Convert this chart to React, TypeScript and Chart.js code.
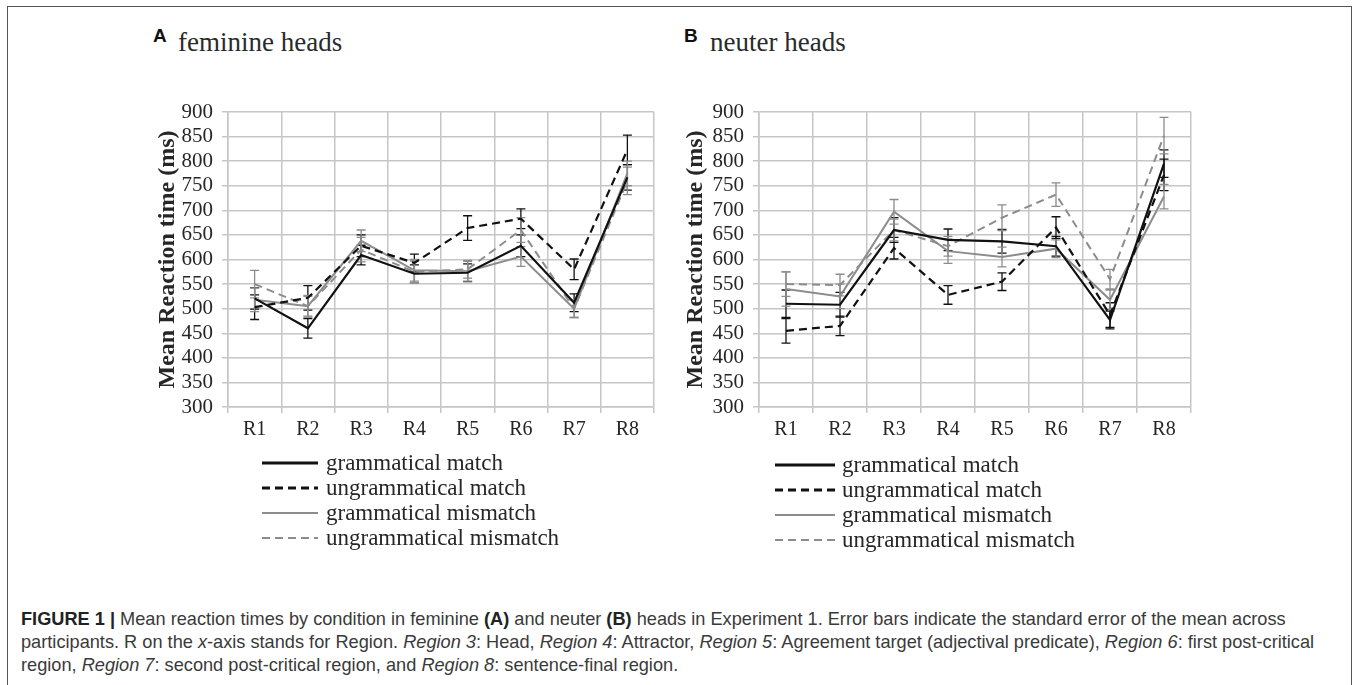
import React, { useEffect, useRef } from "react";
import { Chart, registerables } from "chart.js";

Chart.register(...registerables);

// ---------- data ----------
const regions = ["R1", "R2", "R3", "R4", "R5", "R6", "R7", "R8"];
const yTicksMin = 300;
const yTicksMax = 900;
const yTickStep = 50;
const seriesLabels = [
  "grammatical match",
  "ungrammatical match",
  "grammatical mismatch",
  "ungrammatical mismatch",
];

// feminine heads (A)
const femGramMatch = [521, 460, 609, 571, 573, 628, 512, 767];
const femGramMatchErr = [22, 20, 20, 18, 18, 22, 18, 26];
const femUngramMatch = [503, 522, 628, 593, 664, 683, 580, 823];
const femUngramMatchErr = [25, 25, 22, 18, 25, 20, 21, 30];
const femGramMismatch = [518, 505, 638, 578, 576, 606, 500, 775];
const femGramMismatchErr = [24, 20, 22, 22, 20, 20, 18, 25];
const femUngramMismatch = [550, 505, 620, 575, 580, 660, 500, 760];
const femUngramMismatchErr = [28, 22, 25, 22, 18, 25, 18, 28];

// neuter heads (B)
const neuGramMatch = [510, 508, 660, 640, 637, 627, 477, 795];
const neuGramMatchErr = [28, 25, 25, 22, 24, 20, 18, 28];
const neuUngramMatch = [455, 465, 623, 528, 555, 665, 487, 772];
const neuUngramMatchErr = [25, 20, 22, 19, 18, 22, 25, 32];
const neuGramMismatch = [540, 525, 697, 617, 605, 622, 518, 728];
const neuGramMismatchErr = [35, 25, 25, 25, 20, 18, 20, 25];
const neuUngramMismatch = [550, 548, 660, 627, 685, 732, 560, 852];
const neuUngramMismatchErr = [25, 22, 22, 20, 26, 24, 20, 37];

// ---------- styles ----------
const SERIF = "'Liberation Serif', 'Times New Roman', serif";
const SANS = "'Liberation Sans', Arial, sans-serif";
const GRID = "#c6c6c6";
const TXT = "#262626";
const BLACK = "#111111";
const GRAY = "#8c8c8c";
const DASH = [8, 5];

const errorBarPlugin = {
  id: "errorBars",
  beforeDatasetsDraw(chart: any) {
    const ctx = chart.ctx;
    const ys = chart.scales.y;
    chart.data.datasets.forEach((ds: any, i: number) => {
      const meta = chart.getDatasetMeta(i);
      const errs: number[] = ds.errors;
      if (!errs) return;
      ctx.save();
      ctx.strokeStyle = ds.borderColor;
      ctx.lineWidth = 1.3;
      ctx.setLineDash([]);
      meta.data.forEach((pt: any, j: number) => {
        const v = ds.data[j];
        const e = errs[j];
        const x = pt.x;
        const t = ys.getPixelForValue(v + e);
        const b = ys.getPixelForValue(v - e);
        ctx.beginPath();
        ctx.moveTo(x, t);
        ctx.lineTo(x, b);
        ctx.moveTo(x - 4.5, t);
        ctx.lineTo(x + 4.5, t);
        ctx.moveTo(x - 4.5, b);
        ctx.lineTo(x + 4.5, b);
        ctx.stroke();
      });
      ctx.restore();
    });
  },
};

const lineLegendPlugin = {
  id: "lineLegend",
  afterDraw(chart: any, _args: any, opts: any) {
    const ctx = chart.ctx;
    ctx.save();
    chart.data.datasets.forEach((ds: any, i: number) => {
      const yy = opts.y + i * opts.gap;
      ctx.strokeStyle = ds.borderColor;
      ctx.lineWidth = ds.legendWidth || ds.borderWidth;
      ctx.setLineDash(ds.borderDash || []);
      ctx.beginPath();
      ctx.moveTo(opts.x0, yy);
      ctx.lineTo(opts.x1, yy);
      ctx.stroke();
      ctx.setLineDash([]);
      ctx.fillStyle = TXT;
      ctx.font = `23px ${SERIF}`;
      ctx.textBaseline = "middle";
      ctx.textAlign = "left";
      ctx.fillText(ds.label, opts.textX, yy + 1);
    });
    ctx.restore();
  },
};

function makeDatasets(vals: number[][], errs: number[][]) {
  const styles = [
    { color: BLACK, dash: [], width: 2.2, lw: 3 },
    { color: BLACK, dash: DASH, width: 2.2, lw: 3 },
    { color: GRAY, dash: [], width: 2, lw: 2.2 },
    { color: GRAY, dash: DASH, width: 2, lw: 2.2 },
  ];
  return vals.map((v, i) => ({
    label: seriesLabels[i],
    data: v,
    errors: errs[i],
    borderColor: styles[i].color,
    backgroundColor: styles[i].color,
    borderDash: styles[i].dash,
    borderWidth: styles[i].width,
    legendWidth: styles[i].lw,
    pointRadius: 0,
    tension: 0,
    fill: false,
  }));
}

type PanelProps = {
  left: number;
  top: number;
  width: number;
  height: number;
  yScaleWidth: number;
  padRight: number;
  padTop: number;
  padBottom: number;
  titlePad: number;
  legend: { x0: number; x1: number; textX: number; y: number; gap: number };
  vals: number[][];
  errs: number[][];
};

function Panel(p: PanelProps) {
  const ref = useRef<HTMLCanvasElement | null>(null);
  useEffect(() => {
    if (!ref.current) return;
    const chart = new Chart(ref.current, {
      type: "line",
      data: { labels: regions, datasets: makeDatasets(p.vals, p.errs) as any },
      options: {
        animation: false,
        responsive: false,
        devicePixelRatio: 1,
        layout: { padding: { top: p.padTop, right: p.padRight, bottom: p.padBottom, left: 0 } },
        plugins: {
          legend: { display: false },
          tooltip: { enabled: false },
          lineLegend: p.legend,
        } as any,
        scales: {
          x: {
            type: "category",
            offset: true,
            grid: { offset: true, color: GRID, lineWidth: 1.5, tickLength: 6, drawTicks: true },
            border: { color: GRID, width: 1.5 },
            ticks: {
              font: { family: SERIF, size: 20 },
              color: TXT,
              padding: 5,
              maxRotation: 0,
              autoSkip: false,
            },
            afterFit: (s: any) => {
              s.height = 40;
            },
          },
          y: {
            min: yTicksMin,
            max: yTicksMax,
            ticks: {
              stepSize: yTickStep,
              autoSkip: false,
              font: { family: SERIF, size: 21 },
              color: TXT,
              padding: 9,
            },
            grid: { color: GRID, lineWidth: 1.5, tickLength: 6 },
            border: { color: GRID, width: 1.5 },
            title: {
              display: true,
              text: "Mean Reaction time (ms)",
              font: { family: SERIF, size: 24, weight: "bold" },
              color: TXT,
              padding: { top: p.titlePad, bottom: 0 },
            },
            afterFit: (s: any) => {
              s.width = p.yScaleWidth;
            },
          },
        },
      } as any,
      plugins: [errorBarPlugin, lineLegendPlugin],
    });
    return () => chart.destroy();
  }, []);
  return (
    <canvas
      ref={ref}
      width={p.width}
      height={p.height}
      style={{ position: "absolute", left: p.left, top: p.top, width: p.width, height: p.height }}
    />
  );
}

export default function App() {
  const titleSerif: React.CSSProperties = {
    position: "absolute",
    fontFamily: SERIF,
    fontSize: 27,
    lineHeight: "27px",
    color: "#2a2a2a",
    whiteSpace: "nowrap",
  };
  const titleLetter: React.CSSProperties = {
    position: "absolute",
    fontFamily: SANS,
    fontWeight: "bold",
    fontSize: 19,
    lineHeight: "19px",
    color: "#111",
  };
  const capLine: React.CSSProperties = { whiteSpace: "nowrap", height: 23 };
  return (
    <div
      style={{
        position: "absolute",
        left: 0,
        top: 0,
        width: 1357,
        height: 685,
        overflow: "hidden",
        background: "#fff",
      }}
    >
      <div
        style={{
          position: "absolute",
          left: 7,
          top: 6,
          width: 1345,
          height: 720,
          border: "1.5px solid #555",
          boxSizing: "border-box",
        }}
      />
      <div style={{ ...titleLetter, left: 153, top: 26 }}>A</div>
      <div style={{ ...titleSerif, left: 178, top: 29 }}>feminine heads</div>
      <div style={{ ...titleLetter, left: 684, top: 26 }}>B</div>
      <div style={{ ...titleSerif, left: 710, top: 29 }}>neuter heads</div>

      <Panel
        left={136}
        top={90}
        width={530}
        height={480}
        yScaleWidth={92}
        padRight={12}
        padTop={22}
        padBottom={123}
        titlePad={17}
        legend={{ x0: 126, x1: 182, textX: 190, y: 373, gap: 25 }}
        vals={[femGramMatch, femUngramMatch, femGramMismatch, femUngramMismatch]}
        errs={[femGramMatchErr, femUngramMatchErr, femGramMismatchErr, femUngramMismatchErr]}
      />
      <Panel
        left={670}
        top={90}
        width={530}
        height={480}
        yScaleWidth={89}
        padRight={9}
        padTop={22}
        padBottom={123}
        titlePad={11}
        legend={{ x0: 105, x1: 165, textX: 172, y: 375, gap: 25 }}
        vals={[neuGramMatch, neuUngramMatch, neuGramMismatch, neuUngramMismatch]}
        errs={[neuGramMatchErr, neuUngramMatchErr, neuGramMismatchErr, neuUngramMismatchErr]}
      />

      <div
        style={{
          position: "absolute",
          left: 21,
          top: 608,
          fontFamily: SANS,
          fontSize: 18.2,
          lineHeight: "23px",
          color: "#3a3a3a",
        }}
      >
        <div style={capLine}>
          <b style={{ color: "#222" }}>FIGURE 1 |</b> Mean reaction times by condition in feminine{" "}
          <b style={{ color: "#222" }}>(A)</b> and neuter <b style={{ color: "#222" }}>(B)</b> heads in Experiment 1.
          Error bars indicate the standard error of the mean across
        </div>
        <div style={capLine}>
          participants. R on the <i>x</i>-axis stands for Region. <i>Region 3</i>: Head, <i>Region 4</i>: Attractor,{" "}
          <i>Region 5</i>: Agreement target (adjectival predicate), <i>Region 6</i>: first post-critical
        </div>
        <div style={capLine}>
          region, <i>Region 7</i>: second post-critical region, and <i>Region 8</i>: sentence-final region.
        </div>
      </div>
    </div>
  );
}
